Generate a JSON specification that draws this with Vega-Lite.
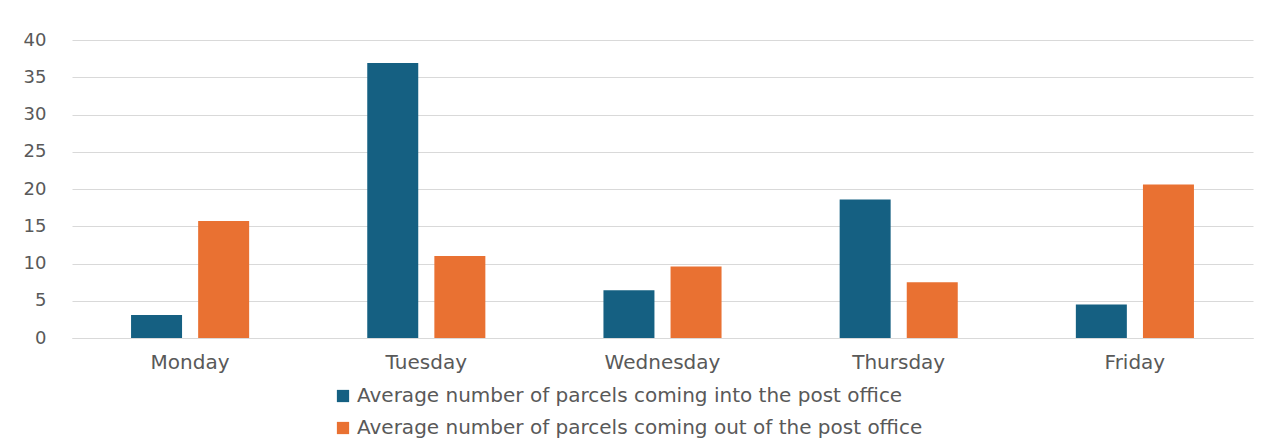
{
  "$schema": "https://vega.github.io/schema/vega-lite/v6.json",
  "width": 1181,
  "height": 298,
  "autosize": {"type": "none"},
  "padding": {"left": 72, "top": 40, "right": 16, "bottom": 107},
  "background": "white",
  "data": {
    "values": [
      {"day": "Monday", "series": "Average number of parcels coming into the post office", "value": 3.1},
      {"day": "Monday", "series": "Average number of parcels coming out of the post office", "value": 15.7},
      {"day": "Tuesday", "series": "Average number of parcels coming into the post office", "value": 36.9},
      {"day": "Tuesday", "series": "Average number of parcels coming out of the post office", "value": 11.0},
      {"day": "Wednesday", "series": "Average number of parcels coming into the post office", "value": 6.4},
      {"day": "Wednesday", "series": "Average number of parcels coming out of the post office", "value": 9.6},
      {"day": "Thursday", "series": "Average number of parcels coming into the post office", "value": 18.6},
      {"day": "Thursday", "series": "Average number of parcels coming out of the post office", "value": 7.5},
      {"day": "Friday", "series": "Average number of parcels coming into the post office", "value": 4.5},
      {"day": "Friday", "series": "Average number of parcels coming out of the post office", "value": 20.6}
    ]
  },
  "mark": {"type": "bar"},
  "encoding": {
    "x": {
      "field": "day", "type": "nominal",
      "sort": ["Monday", "Tuesday", "Wednesday", "Thursday", "Friday"],
      "scale": {"paddingInner": 0.5, "paddingOuter": 0.25},
      "axis": {"title": null, "labelAngle": 0, "ticks": false, "domainColor": "#d9d9d9", "labelPadding": 14, "labelFontSize": 20, "labelColor": "#595959", "labelFont": "DejaVu Sans"}
    },
    "xOffset": {
      "field": "series", "type": "nominal",
      "scale": {"paddingInner": 0.24, "paddingOuter": 0}
    },
    "y": {
      "field": "value", "type": "quantitative",
      "scale": {"domain": [0, 40]},
      "axis": {"title": null, "values": [0, 5, 10, 15, 20, 25, 30, 35, 40], "domain": false, "ticks": false, "gridColor": "#d9d9d9", "labelPadding": 26, "labelFontSize": 18, "labelColor": "#595959", "labelFont": "DejaVu Sans"}
    },
    "color": {
      "field": "series", "type": "nominal",
      "scale": {"range": ["#156082", "#E97132"]},
      "legend": {
        "title": null, "orient": "none", "legendX": 261, "legendY": 346,
        "direction": "vertical", "symbolType": "square", "symbolSize": 150,
        "labelFontSize": 20, "labelColor": "#595959", "labelFont": "DejaVu Sans", "labelLimit": 0,
        "rowPadding": 12, "symbolStrokeWidth": 0
      }
    }
  },
  "config": {"view": {"stroke": null}}
}
